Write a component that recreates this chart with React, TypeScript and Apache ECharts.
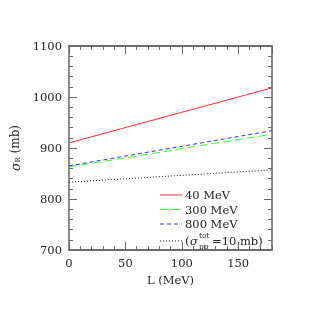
import React, { useEffect, useRef } from "react";
import * as echarts from "echarts";

const L = [0, 60, 120, 180];
const sigma40 = [910, 946, 982, 1018];
const sigma300 = [863, 884, 906, 927];
const sigma800 = [865, 888, 911, 934];
const sigmaPP10 = [833, 841, 849, 857];
const xMajorLabels = [0, 50, 100, 150];
const yTickLabels = [700, 800, 900, 1000, 1100];

const FONT = "DejaVu Serif";
const AX = "#666";
const FS = 11.5;

const pts = (ys: number[]) => L.map((x, i) => [x, ys[i]]);

export default function App() {
  const ref = useRef<HTMLDivElement>(null);
  useEffect(() => {
    const chart = echarts.init(ref.current!, null, { renderer: "svg" });
    const grid = { left: 69, right: 47, top: 46, bottom: 69 };
    const baseX = (position: string, interval: number, len: number, labels: boolean) => ({
      type: "value",
      gridIndex: 0,
      position,
      min: 0,
      max: 180,
      interval,
      axisLine: { show: true, onZero: false, lineStyle: { color: AX, width: 1.5 } },
      axisTick: { show: true, inside: true, length: len, lineStyle: { color: AX, width: 1 } },
      axisLabel: {
        show: labels,
        showMaxLabel: false,
        margin: 7,
        fontFamily: FONT,
        fontSize: FS,
        color: "#222",
        formatter: (v: number) => (xMajorLabels.includes(v) ? String(v) : ""),
      },
      splitLine: { show: false },
    });
    const baseY = (position: string, labels: boolean) => ({
      type: "value",
      gridIndex: 0,
      position,
      min: yTickLabels[0],
      max: yTickLabels[yTickLabels.length - 1],
      interval: 100,
      axisLine: { show: true, onZero: false, lineStyle: { color: AX, width: 1.5 } },
      axisTick: { show: true, inside: true, length: 8, lineStyle: { color: AX, width: 1 } },
      minorTick: { show: true, splitNumber: 5, length: 4, lineStyle: { color: AX, width: 1 } },
      axisLabel: {
        show: labels,
        margin: 7,
        fontFamily: FONT,
        fontSize: FS,
        color: "#222",
        formatter: (v: number) => String(v),
      },
      splitLine: { show: false },
    });
    const x0: any = baseX("bottom", 50, 8, true);
    x0.name = "L (MeV)";
    x0.nameLocation = "middle";
    x0.nameGap = 23;
    x0.nameTextStyle = { fontFamily: FONT, fontSize: FS, color: "#222" };
    const y0: any = baseY("left", true);
    y0.name = "{s|σ}{sub|R} (mb)";
    y0.nameLocation = "middle";
    y0.nameGap = 45;
    y0.nameTextStyle = {
      fontFamily: FONT,
      fontSize: 12,
      color: "#222",
      rich: {
        s: { fontFamily: FONT, fontSize: 12.5, fontStyle: "italic", color: "#222" },
        sub: { fontFamily: FONT, fontSize: 7, color: "#222", verticalAlign: "bottom", padding: [6, 0, 0, 0] },
      },
    };
    const txt = { fontFamily: FONT, fontSize: FS, fill: "#222" };
    const legendRows = [
      { y: 195, color: "#ff3030", dash: null as any, label: "40 MeV" },
      { y: 209.5, color: "#30ff30", dash: [8, 4], label: "300 MeV" },
      { y: 224, color: "#3030ff", dash: [4, 3], label: "800 MeV" },
    ];
    const graphic: any[] = [];
    legendRows.forEach((r) => {
      graphic.push({
        type: "line",
        shape: { x1: 160, y1: r.y, x2: 182, y2: r.y },
        style: { stroke: r.color, lineWidth: 1, lineDash: r.dash },
      });
      graphic.push({ type: "text", x: 185, y: r.y, style: { ...txt, text: r.label, verticalAlign: "middle" } });
    });
    const ly = 241;
    graphic.push({
      type: "line",
      shape: { x1: 160, y1: ly, x2: 182, y2: ly },
      style: { stroke: "#111", lineWidth: 1, lineDash: [1, 2] },
    });
    graphic.push({ type: "text", x: 185, y: ly, style: { ...txt, text: "(", verticalAlign: "middle" } });
    graphic.push({
      type: "text",
      x: 190,
      y: ly,
      style: { ...txt, text: "σ", fontStyle: "italic", verticalAlign: "middle" },
    });
    graphic.push({ type: "text", x: 199, y: 235.5, style: { ...txt, fontSize: 7.5, text: "tot", verticalAlign: "middle" } });
    graphic.push({ type: "text", x: 199, y: 246, style: { ...txt, fontSize: 7.5, text: "pp", verticalAlign: "middle" } });
    graphic.push({ type: "text", x: 212, y: ly, style: { ...txt, text: "=10 mb)", verticalAlign: "middle" } });

    const line = (name: string, ys: number[], color: string, type: any) => ({
      name,
      type: "line",
      xAxisIndex: 0,
      yAxisIndex: 0,
      data: pts(ys),
      showSymbol: false,
      symbol: "none",
      lineStyle: { color, width: 1, type },
    });

    chart.setOption({
      animation: false,
      grid: [grid],
      xAxis: [x0, baseX("top", 50, 8, false), baseX("bottom", 10, 4, false), baseX("top", 10, 4, false)],
      yAxis: [y0, baseY("right", false)],
      series: [
        line("40 MeV", sigma40, "#ff3030", "solid"),
        line("300 MeV", sigma300, "#30ff30", [8, 4]),
        line("800 MeV", sigma800, "#3030ff", [4, 3]),
        line("(σpp tot=10 mb)", sigmaPP10, "#111", [1, 2]),
      ],
      graphic,
    });
    return () => chart.dispose();
  }, []);
  return <div ref={ref} style={{ position: "fixed", left: 0, top: 0, width: 319, height: 319 }} />;
}
